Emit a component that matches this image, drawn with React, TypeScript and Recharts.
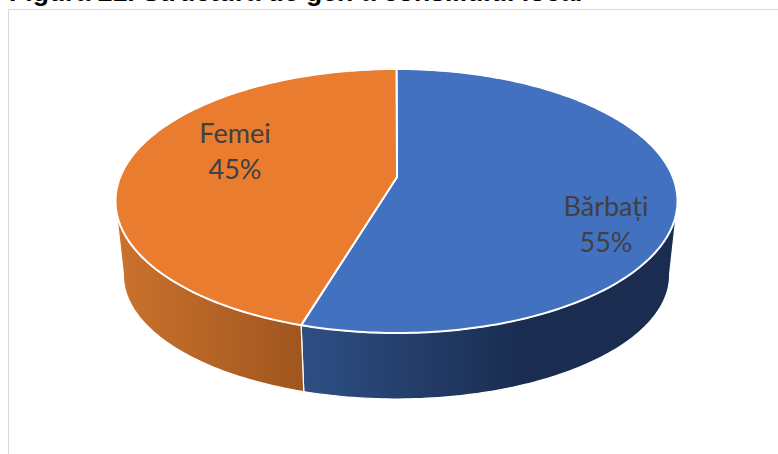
import React from "react";
import { PieChart, Pie, Cell } from "recharts";

const categories = ["Bărbați", "Femei"];
const shares = [54.6, 45.4];
const sliceColors = ["#4271C0", "#EA7C30"];
const wallStops = [
  ["#2E4F85", "#1A2D50"],
  ["#CB722E", "#A0561F"],
];
const titleText = "Figura 21. Structura de gen a consiliului local";

const rows = categories.map((name, i) => ({ name, value: shares[i] }));

const CX = 396.5;
const CY = 201;
const RX = 281;
const RY = 132;
const BOTTOM = { dy: 74, sx: 0.972, sy: 124 / 132 };
const K = -0.1818;
const UPPER_LEFT = 255;
const UPPER_RIGHT = 105;
const LOWER_LEFT = 260;
const LOWER_RIGHT = 100;
const labelOffsets = [
  { dx: 209.5, dy: 15 },
  { dx: -161.5, dy: -58 },
];

// Perspective projection of the pie's circle; theta is clockwise from 12 o'clock.
function project(theta: number, cx: number, cy: number, rx: number, bottom = false) {
  const t = (theta * Math.PI) / 180;
  const x = Math.sin(t);
  const y = -Math.cos(t);
  const d = 1 + K * y;
  let X = (rx * Math.sqrt(1 - K * K) * x) / d;
  let Y = (RY * y - 24) / d;
  if (bottom) {
    X *= BOTTOM.sx;
    Y = Y * BOTTOM.sy + BOTTOM.dy;
  }
  return [cx + X, cy + Y];
}

function sweep(from: number, to: number, cx: number, cy: number, rx: number, bottom = false) {
  const pts: number[][] = [];
  const steps = Math.max(2, Math.ceil(Math.abs(to - from)));
  for (let i = 0; i <= steps; i++) {
    pts.push(project(from + ((to - from) * i) / steps, cx, cy, rx, bottom));
  }
  return pts;
}

const toPath = (pts: number[][]) =>
  pts.map((p, i) => `${i ? "L" : "M"}${p[0].toFixed(2)},${p[1].toFixed(2)}`).join(" ");

function Slice3D(props: any) {
  const { cx, cy, outerRadius, startAngle, endAngle, fill, index } = props;
  const idx = index ?? categories.indexOf(props.name);
  const a = 90 - startAngle;
  const b = 90 - endAngle;
  const hasWall = Math.min(b, UPPER_LEFT) > Math.max(a, UPPER_RIGHT);
  const topArc = sweep(a, b, cx, cy, outerRadius);
  const apex = [cx + 0.5, cy - 24];
  const topPath = `M${apex[0]},${apex[1]} ${toPath(topArc).replace("M", "L")} Z`;
  let wallPath = "";
  let gx0 = 0;
  let gx1 = 0;
  if (hasWall) {
    const upper = sweep(Math.max(a, UPPER_RIGHT), Math.min(b, UPPER_LEFT), cx, cy, outerRadius);
    const lower = sweep(Math.min(b, LOWER_LEFT), Math.max(a, LOWER_RIGHT), cx, cy, outerRadius, true);
    wallPath = `${toPath(upper)} ${toPath(lower).replace("M", "L")} Z`;
    const xs = upper.map((p) => p[0]);
    gx0 = Math.min(...xs);
    gx1 = Math.max(...xs);
  }
  const gid = `wall-${idx}`;
  const stops = wallStops[idx] ?? wallStops[0];
  const isLeftSide = gx0 < cx && gx1 < cx + 1;
  return (
    <g>
      {hasWall && (
        <>
          <defs>
            <linearGradient
              id={gid}
              gradientUnits="userSpaceOnUse"
              x1={gx0}
              x2={isLeftSide ? gx1 : gx0 + 220}
              y1={0}
              y2={0}
            >
              <stop offset="0" stopColor={stops[0]} />
              <stop offset="1" stopColor={stops[1]} />
            </linearGradient>
          </defs>
          <path d={wallPath} fill={`url(#${gid})`} stroke="#FFFFFF" strokeWidth={1.2} strokeLinejoin="round" />
        </>
      )}
      <path d={topPath} fill={fill} stroke="#FFFFFF" strokeWidth={2} strokeLinejoin="round" />
    </g>
  );
}

function renderLabel(props: any) {
  const { cx, cy, index, percent, name } = props;
  const off = labelOffsets[index];
  const x = cx + off.dx;
  const y = cy + off.dy;
  return (
    <text
      key={name}
      x={x}
      y={y}
      textAnchor="middle"
      fill="#404040"
      style={{ fontFamily: "Lato, Carlito, sans-serif", fontSize: 27 }}
    >
      <tspan x={x} y={y}>{name}</tspan>
      <tspan x={x} y={y + 36}>{`${Math.round(percent * 100)}%`}</tspan>
    </text>
  );
}

export default function App() {
  return (
    <div style={{ position: "absolute", left: 0, top: 0, width: 778, height: 454, overflow: "hidden", background: "#FFFFFF" }}>
      <div
        style={{
          position: "absolute",
          left: 9,
          top: -20.7,
          fontFamily: "'Liberation Sans', Arial, sans-serif",
          fontWeight: 700,
          fontSize: 26.6,
          lineHeight: "26px",
          color: "#000000",
          whiteSpace: "nowrap",
        }}
      >
        {titleText}
      </div>
      <div
        style={{
          position: "absolute",
          left: 7.5,
          top: 8.5,
          width: 800,
          height: 500,
          borderLeft: "1px solid #D9D9D9",
          borderTop: "1px solid #D9D9D9",
        }}
      />
      <div style={{ position: "absolute", left: 0, top: 0 }}>
        <PieChart width={778} height={454} margin={{ top: 0, right: 0, bottom: 0, left: 0 }}>
          <Pie
            data={rows}
            dataKey="value"
            nameKey="name"
            cx={CX}
            cy={CY}
            innerRadius={0}
            outerRadius={RX}
            startAngle={90}
            endAngle={-270}
            paddingAngle={0}
            stroke="none"
            isAnimationActive={false}
            labelLine={false}
            label={renderLabel}
            shape={Slice3D}
          >
            {rows.map((r, i) => (
              <Cell key={r.name} fill={sliceColors[i]} />
            ))}
          </Pie>
        </PieChart>
      </div>
    </div>
  );
}
